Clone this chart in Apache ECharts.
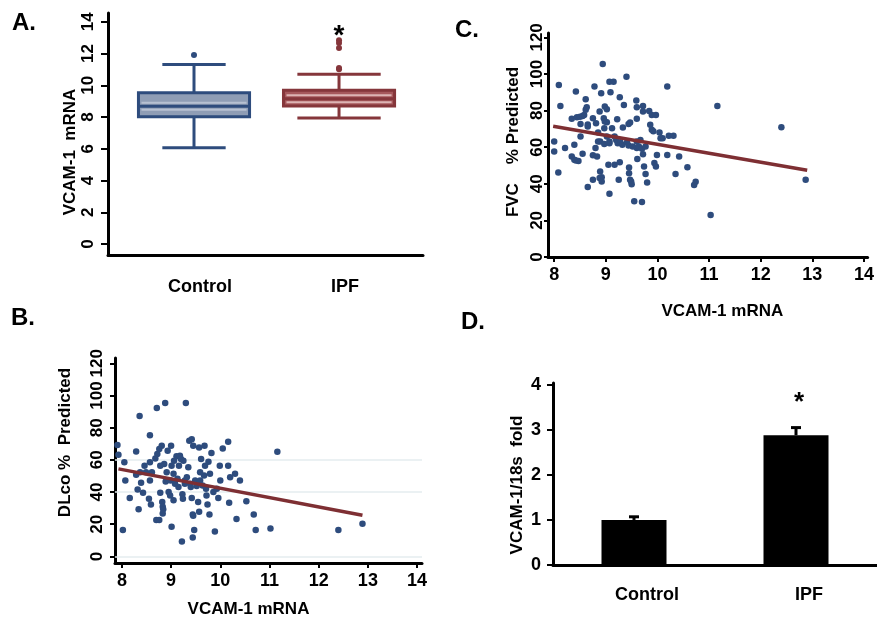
<!DOCTYPE html>
<html>
<head>
<meta charset="utf-8">
<script src="https://cdn.jsdelivr.net/npm/echarts@6/dist/echarts.min.js"></script>
<style>html,body{margin:0;padding:0;background:#fff}#c{width:877px;height:619px}</style>
</head>
<body>
<div id="c"></div>
<script>
// ---------- DATA ----------
const boxCats = ['Control', 'IPF'];
// [position, low whisker, Q1, median, Q3, high whisker]
const controlBox = [[1, 6.06, 8.01, 8.68, 9.52, 11.3]];
const ipfBox = [[2, 7.94, 8.70, 9.15, 9.69, 10.69]];
const controlOutliers = [[1, 11.9]];
const ipfOutliers = [[2, 11.0], [2, 11.09], [2, 12.35], [2, 12.66], [2, 12.83]];
const starA = [[2, 13.3]];
const yTicksA = [0, 2, 4, 6, 8, 10, 12, 14];

// FVC % predicted vs VCAM-1 mRNA
const fvcPoints = [[8.0,63.1],[8.0,57.6],[8.09,94],[8.12,82.5],[8.08,46.2],[8.21,59.6],[8.34,75.6],[8.39,61.3],[8.34,54.9],[8.39,53.1],[8.42,52.7],[8.47,52.4],[8.42,90.4],[8.44,76.4],[8.5,76.7],[8.51,65.8],[8.51,72.7],[8.55,77],[8.58,77.6],[8.61,86.2],[8.61,80.4],[8.63,81.8],[8.65,72.4],[8.65,71.3],[8.55,56.4],[8.65,38.2],[8.75,42.2],[8.75,75.8],[8.78,93.1],[8.75,55.6],[8.83,54.9],[8.81,73.1],[8.85,68],[8.85,63.1],[8.88,79.5],[8.91,89.5],[8.89,63.1],[8.89,46.7],[8.92,43.6],[8.88,43.1],[8.92,41.3],[8.94,105.5],[8.96,75.8],[8.97,70.4],[8.98,74],[8.98,82.2],[9.02,80.7],[9.02,73.6],[9.02,65.8],[9.05,50.4],[9.07,95.8],[9.15,95.8],[9.09,90],[9.07,63.1],[9.07,62.2],[9.07,34.5],[9.12,70.4],[9.17,50.4],[9.2,64],[9.23,62.2],[9.22,75.3],[9.27,87.3],[9.27,51.8],[9.25,42.2],[9.28,62.7],[9.32,61.3],[9.33,70.7],[9.35,83.1],[9.4,98.5],[9.41,62.7],[9.44,72.7],[9.47,73.5],[9.45,48.9],[9.45,45.8],[9.47,42.2],[9.49,41.3],[9.5,39.8],[9.44,60.9],[9.52,60.4],[9.55,30.5],[9.59,85.5],[9.6,81.8],[9.6,75.5],[9.6,63.1],[9.6,59.5],[9.61,53.5],[9.64,60.4],[9.67,64],[9.7,30],[9.72,82.5],[9.72,79.5],[9.7,59.1],[9.72,56.2],[9.74,49.5],[9.77,45.3],[9.8,40.7],[9.84,79.8],[9.86,72.2],[9.89,69.5],[9.89,77.6],[9.97,77.6],[9.92,68.7],[9.94,51.3],[9.97,49.5],[9.99,55.8],[10.04,68],[10.06,64.9],[10.1,64.9],[10.19,93.1],[10.19,55.8],[10.22,66.2],[10.31,66.2],[10.35,45.3],[10.42,54.9],[10.58,49.1],[10.71,39.3],[10.74,41.1],[11.16,82.5],[11.03,23],[12.4,70.9],[12.87,42.2],[8.97,61.8],[8.8,59.5],[9.77,60.4],[9.17,65.8]];
const fvcFitX = [7.98, 12.9];
const fvcFitY = [71.4, 47.4];

// DLco % predicted vs VCAM-1 mRNA
const dlcoPoints = [[7.91,69.3],[7.93,63.2],[8.05,58.5],[8.07,47.2],[8.02,16.4],[8.16,36.3],[8.29,65.2],[8.29,50.7],[8.32,41.6],[8.34,29.3],[8.36,87.2],[8.37,52.3],[8.39,45.7],[8.43,39.6],[8.46,56.4],[8.49,52.3],[8.55,35.9],[8.57,75.3],[8.57,58.5],[8.57,47.2],[8.59,32.2],[8.61,52.3],[8.68,60.9],[8.7,22.6],[8.71,92.3],[8.72,63.6],[8.76,66.7],[8.76,22.6],[8.78,39.6],[8.81,68.7],[8.82,33.8],[8.83,30.8],[8.84,29.3],[8.83,26.7],[8.86,57.4],[8.88,95.4],[8.89,46.6],[8.91,52.3],[8.93,65.6],[8.95,40],[8.98,37.9],[8.99,47.2],[9.0,68.7],[9.01,18.5],[9.05,34.9],[9.05,51.3],[9.06,59.5],[9.08,45.1],[9.11,62.2],[9.13,48.2],[9.16,56.4],[9.18,62.6],[9.2,60.5],[9.22,9.2],[9.23,38.6],[9.24,35.9],[9.25,59.5],[9.28,47.2],[9.28,45.1],[9.3,95.4],[9.32,49.2],[9.37,71.8],[9.42,72.8],[9.39,45.1],[9.4,43.1],[9.42,36.3],[9.44,26.1],[9.45,25.2],[9.44,11.7],[9.45,68.7],[9.47,16.4],[9.49,47.2],[9.52,43.7],[9.55,33.8],[9.57,67.7],[9.57,27.7],[9.59,47.2],[9.61,60.5],[9.64,44.1],[9.67,50.3],[9.68,68.7],[9.69,56.4],[9.71,42.1],[9.72,37.9],[9.74,32.2],[9.76,58.9],[9.78,26.1],[9.79,51.3],[9.82,64.2],[9.86,40],[9.89,15.4],[9.93,42.1],[9.96,36.3],[9.99,56.4],[10.0,47.2],[10.05,67.1],[10.16,71.2],[10.16,56.4],[10.18,33.4],[10.2,49.2],[10.3,51.3],[10.33,23.2],[10.4,47.2],[10.53,34.3],[10.68,26.1],[10.72,16.4],[11.02,17.4],[11.16,65],[12.4,16.4],[12.89,20.3],[9.01,56.4],[9.59,52.3],[8.78,56.4],[9.15,43.1],[9.35,55.4]];
const dlcoFitX = [7.93, 12.89];
const dlcoFitY = [54.4, 25.6];
const dlcoGuides = [0, 40, 60];

const xTicksScatter = [8, 9, 10, 11, 12, 13, 14];
const yTicksScatter = [0, 20, 40, 60, 80, 100, 120];

// Fold change bar chart
const barCats = ['Control', 'IPF'];
const barMeans = [1.0, 2.88];
const barErr = [0.07, 0.17];
const starD = [['IPF', 3.7]];
const yTicksD = [0, 1, 2, 3, 4];

// ---------- STYLE ----------
const FONT = '"Liberation Sans", Arial, Helvetica, sans-serif';
const BLUE = '#2E4C7D';
const RED = '#85363B';
const FIT = '#7E2F33';
const lbl = (extra) => Object.assign({color: '#000', fontFamily: FONT, fontWeight: 'bold', fontSize: 17}, extra || {});
const axLine = {show: true, onZero: false, lineStyle: {color: '#000', width: 3}};
const tick = (vals, len) => ({show: true, customValues: vals, length: len, lineStyle: {color: '#000', width: 2}});
const nameStyle = (pad) => ({color: '#000', fontFamily: FONT, fontWeight: 'bold', fontSize: 17, padding: pad});
const dot = (c) => ({color: c, opacity: 1});

function boxRenderer(border, fill, stripe, capFrac) {
  return function (params, api) {
    const x = api.value(0);
    const p = (i) => api.coord([x, api.value(i)]);
    const lo = p(1), q1 = p(2), md = p(3), q3 = p(4), hi = p(5);
    const bw = api.size([0.766, 0])[0];
    const cw = bw * capFrac;
    const cx = lo[0];
    const s1 = api.coord([x, api.value(3) - 0.22])[1];
    const s2 = api.coord([x, api.value(3) + 0.22])[1];
    const ls = {stroke: border, lineWidth: 3};
    return {
      type: 'group',
      children: [
        {type: 'line', shape: {x1: cx, y1: lo[1], x2: cx, y2: q1[1]}, style: ls},
        {type: 'line', shape: {x1: cx, y1: q3[1], x2: cx, y2: hi[1]}, style: ls},
        {type: 'line', shape: {x1: cx - cw / 2, y1: lo[1], x2: cx + cw / 2, y2: lo[1]}, style: ls},
        {type: 'line', shape: {x1: cx - cw / 2, y1: hi[1], x2: cx + cw / 2, y2: hi[1]}, style: ls},
        {type: 'rect', shape: {x: cx - bw / 2, y: q3[1], width: bw, height: q1[1] - q3[1]}, style: {fill: fill, stroke: border, lineWidth: 3}},
        {type: 'line', shape: {x1: cx - bw / 2 + 3, y1: s1, x2: cx + bw / 2 - 3, y2: s1}, style: {stroke: stripe, lineWidth: 2}},
        {type: 'line', shape: {x1: cx - bw / 2 + 3, y1: s2, x2: cx + bw / 2 - 3, y2: s2}, style: {stroke: stripe, lineWidth: 2}},
        {type: 'line', shape: {x1: cx - bw / 2, y1: md[1], x2: cx + bw / 2, y2: md[1]}, style: {stroke: border, lineWidth: 3}}
      ]
    };
  };
}

function errRenderer(params, api) {
  const i = api.value(0);
  const base = api.coord([i, api.value(1)]);
  const top = api.coord([i, api.value(1) + api.value(2)]);
  const st = {stroke: '#000', lineWidth: 3};
  return {
    type: 'group',
    children: [
      {type: 'line', shape: {x1: base[0], y1: base[1], x2: top[0], y2: top[1]}, style: st},
      {type: 'line', shape: {x1: top[0] - 5, y1: top[1], x2: top[0] + 5, y2: top[1]}, style: st}
    ]
  };
}

const chart = echarts.init(document.getElementById('c'), null, {renderer: 'canvas'});
chart.setOption({
  animation: false,
  backgroundColor: '#fff',
  grid: [
    {left: 108, top: 13, width: 315, height: 242},   // A
    {left: 115, top: 358, width: 307, height: 207},  // B
    {left: 548, top: 33, width: 329, height: 224},   // C
    {left: 553, top: 383, width: 324, height: 182}   // D
  ],
  xAxis: [
    {gridIndex: 0, type: 'value', min: 0.407, max: 2.579, axisLine: axLine, axisTick: {show: false}, splitLine: {show: false},
      axisLabel: lbl({customValues: [1, 2], formatter: (v) => boxCats[Math.round(v) - 1], margin: 23, fontSize: 18, padding: [0, 0, 0, 12]})},
    {gridIndex: 1, type: 'value', min: 7.86, max: 14.1, axisLine: axLine, axisTick: tick(xTicksScatter, 5), splitLine: {show: false},
      axisLabel: lbl({customValues: xTicksScatter, margin: 9, fontSize: 18}),
      name: 'VCAM-1 mRNA', nameLocation: 'middle', nameGap: 38, nameTextStyle: nameStyle([0, 40, 0, 0])},
    {gridIndex: 2, type: 'value', min: 7.88, max: 14.07, axisLine: axLine, axisTick: tick(xTicksScatter, 5), splitLine: {show: false},
      axisLabel: lbl({customValues: xTicksScatter, margin: 9, fontSize: 18}),
      name: 'VCAM-1 mRNA', nameLocation: 'middle', nameGap: 46, nameTextStyle: nameStyle([0, 0, 0, 29])},
    {gridIndex: 3, type: 'category', data: barCats, axisLine: axLine, axisTick: {show: false}, splitLine: {show: false},
      axisLabel: lbl({margin: 21, fontSize: 18, padding: [0, 0, 0, 26]})}
  ],
  yAxis: [
    {gridIndex: 0, type: 'value', min: -0.69, max: 14.55, axisLine: axLine, axisTick: tick(yTicksA, 7), splitLine: {show: false},
      axisLabel: lbl({customValues: yTicksA, rotate: 90, margin: 11}),
      name: 'VCAM-1  mRNA', nameLocation: 'middle', nameGap: 29, nameTextStyle: nameStyle([0, 36, 0, 0])},
    {gridIndex: 1, type: 'value', min: -4.1, max: 123.3, axisLine: axLine, axisTick: tick(yTicksScatter, 5), splitLine: {show: false},
      axisLabel: lbl({customValues: yTicksScatter, rotate: 90, margin: 9}),
      name: 'DLco %  Predicted', nameLocation: 'middle', nameGap: 41, nameTextStyle: nameStyle([0, 0, 0, 36])},
    {gridIndex: 2, type: 'value', min: 0, max: 122.4, axisLine: axLine, axisTick: tick(yTicksScatter, 4), splitLine: {show: false},
      axisLabel: lbl({customValues: yTicksScatter, rotate: 90, margin: 2}),
      name: 'FVC    % Predicted', nameLocation: 'middle', nameGap: 26, nameTextStyle: nameStyle([0, 0, 0, 6])},
    {gridIndex: 3, type: 'value', min: 0, max: 4.04, axisLine: axLine, axisTick: tick(yTicksD, 6), splitLine: {show: false},
      axisLabel: lbl({customValues: yTicksD, margin: 12, fontSize: 18}),
      name: 'VCAM-1/18s  fold', nameLocation: 'middle', nameGap: 27, nameTextStyle: nameStyle([0, 22, 0, 0])}
  ],
  series: [
    // Panel A
    {type: 'custom', xAxisIndex: 0, yAxisIndex: 0, renderItem: boxRenderer(BLUE, '#8F9DB5', '#B7C1D2', 0.57), data: controlBox, encode: {x: 0, y: [1, 2, 3, 4, 5]}, silent: true},
    {type: 'custom', xAxisIndex: 0, yAxisIndex: 0, renderItem: boxRenderer(RED, '#A6585C', '#DDB4B4', 0.75), data: ipfBox, encode: {x: 0, y: [1, 2, 3, 4, 5]}, silent: true},
    {type: 'scatter', xAxisIndex: 0, yAxisIndex: 0, data: controlOutliers, symbolSize: 6, itemStyle: dot(BLUE), silent: true},
    {type: 'scatter', xAxisIndex: 0, yAxisIndex: 0, data: ipfOutliers, symbolSize: 6, itemStyle: dot(RED), silent: true},
    {type: 'scatter', xAxisIndex: 0, yAxisIndex: 0, data: starA, symbolSize: 1, itemStyle: {color: 'rgba(0,0,0,0)', opacity: 1}, silent: true,
      label: {show: true, position: 'inside', formatter: '*', color: '#000', fontFamily: FONT, fontWeight: 'bold', fontSize: 28, offset: [0, 3]}},
    // Panel B
    {type: 'scatter', xAxisIndex: 1, yAxisIndex: 1, data: dlcoPoints, symbolSize: 6.5, itemStyle: dot(BLUE), silent: true, z: 3,
      markLine: {silent: true, z: 1, symbol: 'none', label: {show: false}, lineStyle: {color: '#E4EDEF', width: 1.5, type: 'solid'}, data: dlcoGuides.map(v => ({yAxis: v}))}},
    {type: 'line', xAxisIndex: 1, yAxisIndex: 1, data: dlcoFitX.map((x, i) => [x, dlcoFitY[i]]), showSymbol: false, lineStyle: {color: FIT, width: 3.5}, silent: true, z: 5},
    // Panel C
    {type: 'scatter', xAxisIndex: 2, yAxisIndex: 2, data: fvcPoints, symbolSize: 6.5, itemStyle: dot(BLUE), silent: true},
    {type: 'line', xAxisIndex: 2, yAxisIndex: 2, data: fvcFitX.map((x, i) => [x, fvcFitY[i]]), showSymbol: false, lineStyle: {color: FIT, width: 3.5}, silent: true, z: 5},
    // Panel D
    {type: 'bar', xAxisIndex: 3, yAxisIndex: 3, data: barMeans, barWidth: 65, itemStyle: {color: '#000'}, silent: true},
    {type: 'custom', xAxisIndex: 3, yAxisIndex: 3, renderItem: errRenderer, data: barMeans.map((m, i) => [i, m, barErr[i]]), encode: {x: 0, y: 1}, silent: true, z: 3},
    {type: 'scatter', xAxisIndex: 3, yAxisIndex: 3, data: starD, symbolSize: 1, itemStyle: {color: 'rgba(0,0,0,0)', opacity: 1}, silent: true,
      label: {show: true, position: 'inside', formatter: '*', color: '#000', fontFamily: FONT, fontWeight: 'bold', fontSize: 26, offset: [3, 5]}}
  ],
  graphic: [
    {type: 'text', left: 12, top: 11, style: {text: 'A.', font: 'bold 24px ' + FONT, fill: '#000'}},
    {type: 'text', left: 11, top: 306, style: {text: 'B.', font: 'bold 24px ' + FONT, fill: '#000'}},
    {type: 'text', left: 455, top: 18, style: {text: 'C.', font: 'bold 24px ' + FONT, fill: '#000'}},
    {type: 'text', left: 461, top: 310, style: {text: 'D.', font: 'bold 24px ' + FONT, fill: '#000'}}
  ]
});
</script>
</body>
</html>
